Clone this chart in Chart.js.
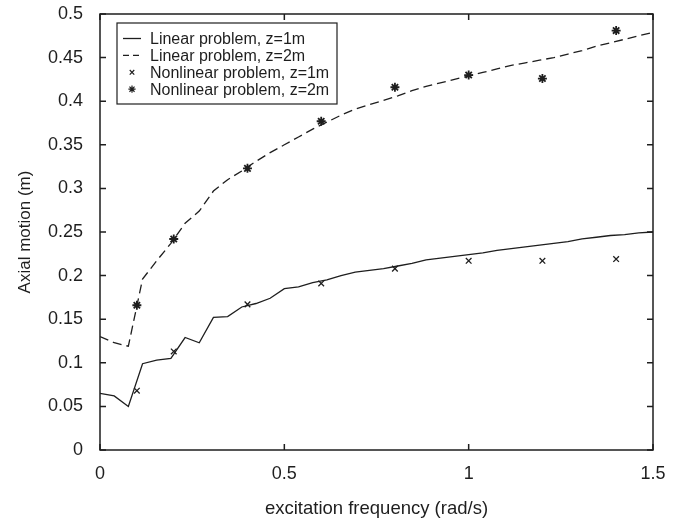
<!DOCTYPE html>
<html>
<head>
<meta charset="utf-8">
<script src="https://cdn.jsdelivr.net/npm/chart.js@4"></script>
<style>
  html, body { margin: 0; padding: 0; background: #fff; }
  #wrap { width: 683px; height: 519px; }
</style>
</head>
<body>
<div id="wrap"><canvas id="c" width="683" height="519"></canvas></div>
<script>
// ---- data ----
const freq = [0, 0.0385, 0.0769, 0.1154, 0.1538, 0.1923, 0.2308, 0.2692, 0.3077, 0.3462,
  0.3846, 0.4231, 0.4615, 0.5, 0.5385, 0.5769, 0.6154, 0.6538, 0.6923, 0.7308,
  0.7692, 0.8077, 0.8462, 0.8846, 0.9231, 0.9615, 1.0, 1.0385, 1.0769, 1.1154,
  1.1538, 1.1923, 1.2308, 1.2692, 1.3077, 1.3462, 1.3846, 1.4231, 1.4615, 1.5];
const linearZ1 = [0.065, 0.062, 0.050, 0.099, 0.103, 0.105, 0.129, 0.123, 0.152, 0.153,
  0.164, 0.168, 0.174, 0.185, 0.187, 0.192, 0.195, 0.200, 0.204, 0.206,
  0.208, 0.211, 0.214, 0.218, 0.220, 0.222, 0.224, 0.226, 0.229, 0.231,
  0.233, 0.235, 0.237, 0.239, 0.242, 0.244, 0.246, 0.247, 0.249, 0.250];
const linearZ2 = [0.130, 0.123, 0.119, 0.196, 0.217, 0.237, 0.260, 0.274, 0.297, 0.310,
  0.320, 0.331, 0.341, 0.350, 0.359, 0.368, 0.376, 0.384, 0.391, 0.396,
  0.401, 0.406, 0.412, 0.417, 0.421, 0.425, 0.429, 0.433, 0.437, 0.441,
  0.444, 0.447, 0.450, 0.454, 0.458, 0.463, 0.467, 0.471, 0.475, 0.479];
const nlFreq = [0.1, 0.2, 0.4, 0.6, 0.8, 1.0, 1.2, 1.4];
const nonlinearZ1 = [0.068, 0.113, 0.167, 0.191, 0.208, 0.217, 0.217, 0.219];
const nonlinearZ2 = [0.166, 0.242, 0.323, 0.377, 0.416, 0.430, 0.426, 0.481];
const seriesNames = ['Linear problem, z=1m', 'Linear problem, z=2m',
  'Nonlinear problem, z=1m', 'Nonlinear problem, z=2m'];
const xTitle = 'excitation frequency (rad/s)';
const yTitle = 'Axial motion (m)';

const INK = '#1e1e1e';
const FONT = "'Liberation Sans', Arial, Helvetica, sans-serif";

const pts = (xs, ys) => xs.map((x, i) => ({ x: x, y: ys[i] }));
const fmt = v => String(parseFloat(Number(v).toFixed(4)));

const datasets = [
  { label: seriesNames[0], data: pts(freq, linearZ1), showLine: true, borderColor: INK,
    borderWidth: 1.3, pointRadius: 0, fill: false, tension: 0 },
  { label: seriesNames[1], data: pts(freq, linearZ2), showLine: true, borderColor: INK,
    borderWidth: 1.3, borderDash: [9, 5], pointRadius: 0, fill: false, tension: 0 },
  { label: seriesNames[2], data: pts(nlFreq, nonlinearZ1), showLine: false,
    pointStyle: 'crossRot', pointRadius: 4, borderColor: INK, backgroundColor: INK, pointBorderWidth: 1.3 },
  { label: seriesNames[3], data: pts(nlFreq, nonlinearZ2), showLine: false,
    pointStyle: 'star', pointRadius: 4.5, borderColor: INK, backgroundColor: INK, pointBorderWidth: 1.8 }
];

// frame with inward ticks on all four sides + legend box inside the plot
const framePlugin = {
  id: 'frame',
  afterDatasetsDraw(chart) {
    const ctx = chart.ctx;
    const a = chart.chartArea;
    const xs = chart.scales.x, ys = chart.scales.y;
    const TL = 6;
    ctx.save();
    ctx.strokeStyle = INK;
    ctx.lineWidth = 1.5;
    ctx.lineCap = 'butt';
    ctx.beginPath();
    xs.ticks.forEach(t => {
      const px = xs.getPixelForValue(t.value);
      ctx.moveTo(px, a.bottom); ctx.lineTo(px, a.bottom - TL);
      ctx.moveTo(px, a.top); ctx.lineTo(px, a.top + TL);
    });
    ys.ticks.forEach(t => {
      const py = ys.getPixelForValue(t.value);
      ctx.moveTo(a.left, py); ctx.lineTo(a.left + TL, py);
      ctx.moveTo(a.right, py); ctx.lineTo(a.right - TL, py);
    });
    ctx.stroke();
    ctx.strokeRect(a.left, a.top, a.right - a.left, a.bottom - a.top);

    // legend
    const lx = a.left + 17, ly = a.top + 9, lw = 220, lh = 81;
    ctx.fillStyle = '#fff';
    ctx.fillRect(lx, ly, lw, lh);
    ctx.lineWidth = 1.2;
    ctx.strokeRect(lx, ly, lw, lh);
    ctx.font = '16px ' + FONT;
    ctx.textBaseline = 'middle';
    ctx.textAlign = 'left';
    ctx.fillStyle = INK;
    const rowH = 16.9;
    chart.data.datasets.forEach((ds, i) => {
      const cy = ly + 15.5 + i * rowH;
      const sx0 = lx + 6, sx1 = lx + 24;
      ctx.save();
      if (ds.showLine) {
        ctx.strokeStyle = ds.borderColor;
        ctx.lineWidth = ds.borderWidth;
        ctx.setLineDash(ds.borderDash ? [6, 4] : []);
        ctx.beginPath();
        ctx.moveTo(sx0, cy); ctx.lineTo(sx1, cy);
        ctx.stroke();
      } else {
        ctx.strokeStyle = ds.borderColor;
        ctx.fillStyle = ds.backgroundColor;
        Chart.helpers.drawPoint(ctx, {
          pointStyle: ds.pointStyle, radius: ds.pointRadius * 0.8,
          rotation: 0, borderWidth: ds.pointBorderWidth
        }, (sx0 + sx1) / 2, cy);
      }
      ctx.restore();
      ctx.fillText(ds.label, lx + 33, cy + 1);
    });
    ctx.restore();
  }
};

new Chart(document.getElementById('c'), {
  type: 'scatter',
  data: { datasets },
  options: {
    responsive: false,
    animation: false,
    devicePixelRatio: 1,
    layout: { padding: { left: 0, right: 30, top: 14, bottom: 0 } },
    plugins: { legend: { display: false }, tooltip: { enabled: false } },
    scales: {
      x: {
        type: 'linear', min: 0, max: 1.5,
        grid: { display: false, drawTicks: false },
        border: { display: false },
        ticks: { stepSize: 0.5, padding: 13, color: INK, font: { family: FONT, size: 18 },
                 callback: v => fmt(v) },
        title: { display: true, text: xTitle, color: INK, font: { family: FONT, size: 18.5 },
                 padding: { top: 0, bottom: -1.5 } },
        afterFit: s => { s.height = 69; }
      },
      y: {
        type: 'linear', min: 0, max: 0.5,
        grid: { display: false, drawTicks: false },
        border: { display: false },
        ticks: { stepSize: 0.05, padding: 17, color: INK, font: { family: FONT, size: 18 },
                 callback: v => fmt(v) },
        title: { display: true, text: yTitle, color: INK, font: { family: FONT, size: 17 },
                 padding: { top: 15, bottom: 0 } },
        afterFit: s => { s.width = 100; s.paddingTop = 10; s.paddingBottom = 10; }
      }
    }
  },
  plugins: [framePlugin]
});
</script>
</body>
</html>
